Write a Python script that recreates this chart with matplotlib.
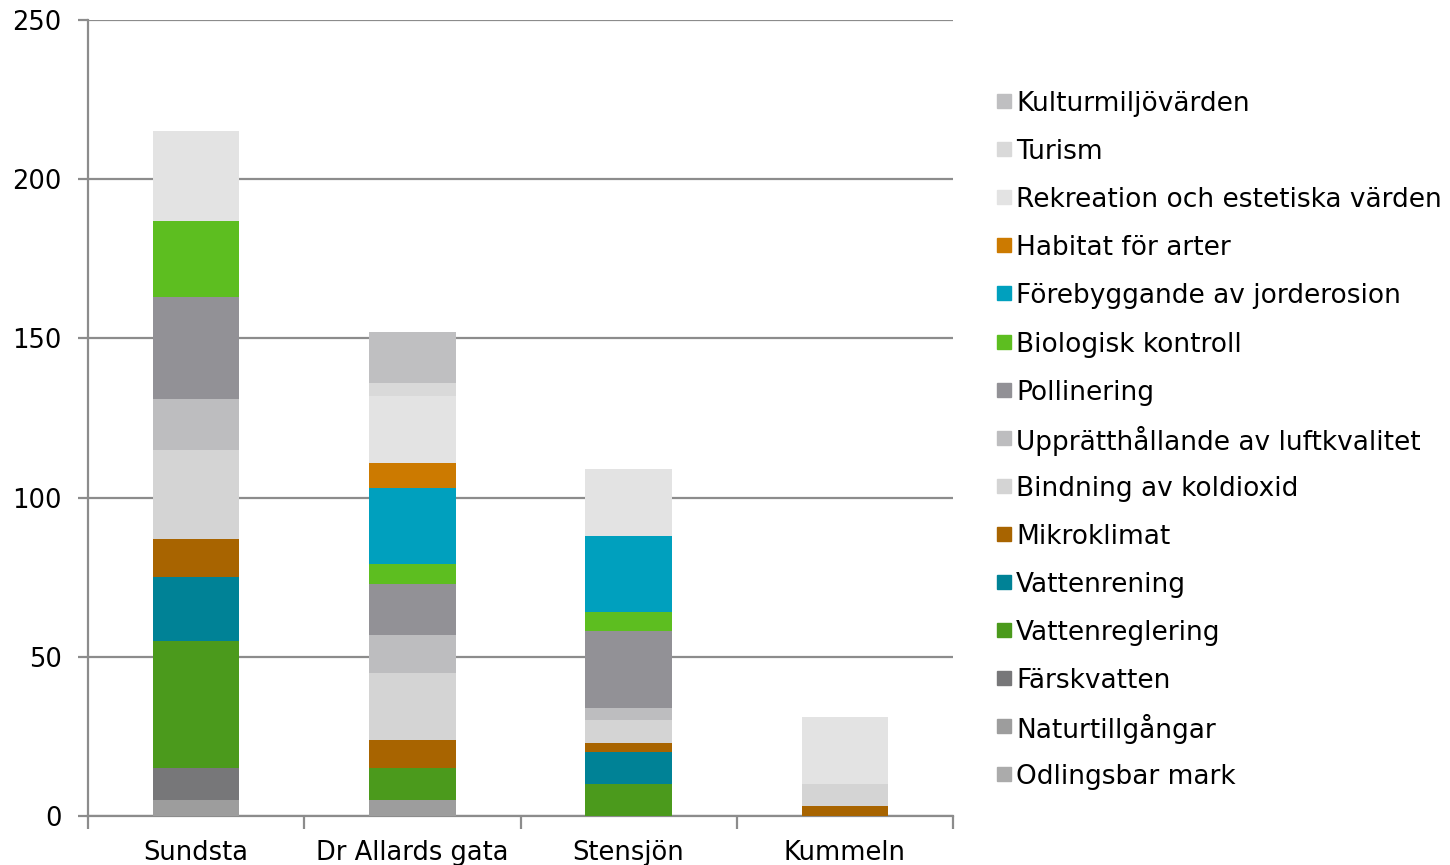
import matplotlib.pyplot as plt
from matplotlib.patches import Rectangle
import numpy as np

# data
sites = ["Sundsta", "Dr Allards gata", "Stensjön", "Kummeln"]

# series stacked bottom -> top
series = [
    "Odlingsbar mark",
    "Naturtillgångar",
    "Färskvatten",
    "Vattenreglering",
    "Vattenrening",
    "Mikroklimat",
    "Bindning av koldioxid",
    "Upprätthållande av luftkvalitet",
    "Pollinering",
    "Biologisk kontroll",
    "Förebyggande av jorderosion",
    "Habitat för arter",
    "Rekreation och estetiska värden",
    "Turism",
    "Kulturmiljövärden",
]

odlingsbar = [0, 0, 0, 0]
naturtillgangar = [5, 5, 0, 0]
farskvatten = [10, 0, 0, 0]
vattenreglering = [40, 10, 10, 0]
vattenrening = [20, 0, 10, 0]
mikroklimat = [12, 9, 3, 3]
koldioxid = [28, 21, 7, 7]
luftkvalitet = [16, 12, 4, 0]
pollinering = [32, 16, 24, 0]
biologisk = [24, 6, 6, 0]
jorderosion = [0, 24, 24, 0]
habitat = [0, 8, 0, 0]
rekreation = [28, 21, 21, 21]
turism = [0, 4, 0, 0]
kulturmiljo = [0, 16, 0, 0]

values = [odlingsbar, naturtillgangar, farskvatten, vattenreglering, vattenrening,
          mikroklimat, koldioxid, luftkvalitet, pollinering, biologisk,
          jorderosion, habitat, rekreation, turism, kulturmiljo]

colors = ["#ababab", "#9d9d9d", "#777779", "#4b9a1c", "#008296",
          "#a86400", "#d4d4d4", "#bdbdbf", "#929196", "#5dbe20",
          "#00a0be", "#cc7a00", "#e3e3e3", "#d9d9d9", "#bfbfc1"]

plt.rcParams['font.family'] = ['DejaVu Sans']

W, H = 1450, 865
fig = plt.figure(figsize=(W / 100, H / 100), dpi=100)
ax = fig.add_axes([88 / W, 49 / H, 865 / W, 796 / H])

x = np.arange(len(sites))
bottom = np.zeros(len(sites))
for name, vals, col in zip(series, values, colors):
    vals = np.array(vals, dtype=float)
    ax.bar(x, vals, 0.4, bottom=bottom, color=col, label=name, zorder=3)
    bottom += vals

ax.set_xlim(-0.5, len(sites) - 0.5)
ax.set_ylim(0, 250)
ax.set_yticks(np.arange(0, 251, 50))
ax.yaxis.grid(True, color="#8c8c8c", linewidth=1.6, zorder=0)
ax.set_axisbelow(True)

for s in ["top", "right"]:
    ax.spines[s].set_visible(False)
for s in ["left", "bottom"]:
    ax.spines[s].set_color("#8c8c8c")
    ax.spines[s].set_linewidth(1.6)

ax.set_xticks(x)
ax.set_xticklabels(sites, fontsize=18.5)
ax.tick_params(axis="x", length=0, pad=17)
ax.set_xticks(np.arange(-0.5, len(sites)), minor=True)
ax.tick_params(axis="x", which="minor", length=9, width=1.6, color="#8c8c8c")
ax.tick_params(axis="y", length=7, width=1.6, color="#8c8c8c", labelsize=18.5, pad=12)

# legend, top entry = last series, evenly spaced rows
for i, (name, col) in enumerate(zip(series[::-1], colors[::-1])):
    yc = 101 + 48.1 * i
    fig.patches.append(Rectangle((997 / W, 1 - (yc + 7) / H), 14 / W, 14 / H,
                                 transform=fig.transFigure, color=col))
    fig.text(1016 / W, 1 - yc / H, name, fontsize=19,
             va="center_baseline", ha="left")

fig.savefig("out.png", dpi=100)
